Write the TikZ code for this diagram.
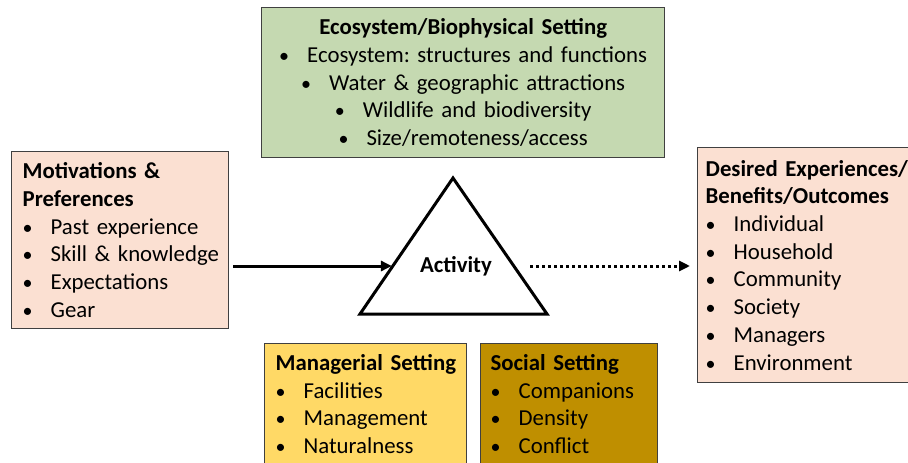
\documentclass[tikz,border=0pt]{standalone}
\usepackage{fontspec}
\setmainfont{Carlito}
\usepackage{xcolor}
\usetikzlibrary{arrows.meta,positioning}
\definecolor{EcoGreen}{RGB}{197,217,177}
\definecolor{Peach}{RGB}{251,224,210}
\definecolor{MgrGold}{RGB}{255,217,102}
\definecolor{SocGold}{RGB}{191,143,0}
\definecolor{EdgeGray}{RGB}{64,64,64}
% one unbreakable bullet line
\newcommand{\bul}[1]{\mbox{\makebox[28pt][l]{\fontsize{20}{20}\selectfont\textbullet}#1}}
\newcommand{\hd}[1]{\mbox{\bfseries #1}}
\tikzset{
  box/.style={draw=EdgeGray,line width=1.3pt,anchor=north west,
              inner xsep=11pt,inner ysep=0pt,align=left},
  tri/.style={draw=black,line width=3pt,line join=miter},
  flow/.style={-{Triangle[length=11pt,width=10pt]},line width=3pt},
  maybe/.style={flow,dash pattern=on 3pt off 3pt},
}

\begin{document}
\frenchspacing
\begin{tikzpicture}[x=1pt,y=-1pt,every node/.style={font=\fontsize{22.8}{27.7}\selectfont}]
  \useasboundingbox (0,0) rectangle (908,463);
  \clip (0,0) rectangle (908,463);

  % settings around the activity
  \node[box,fill=EcoGreen,align=center,text width=381pt,minimum height=150pt] (eco) at (261,7)
  {\hd{Ecosystem/Biophysical Setting}\\
   \bul{Ecosystem: structures and functions}\\
   \bul{Water \& geographic attractions}\\
   \bul{Wildlife and biodiversity}\\
   \bul{Size/remoteness/access}};

  \node[box,fill=MgrGold,text width=180pt,minimum height=121pt] (mgr) at (264,343)
  {\hd{Managerial Setting}\\
   \bul{Facilities}\\
   \bul{Management}\\
   \bul{Naturalness}};

  \node[box,fill=SocGold,inner xsep=10pt,text width=157pt,minimum height=121pt] (soc) at (480,343)
  {\hd{Social Setting}\\
   \bul{Companions}\\
   \bul{Density}\\
   \bul{Conflict}};

  % inputs and outcomes
  \node[box,fill=Peach,text width=195pt,minimum height=177pt] (motiv) at (11,151)
  {\hd{Motivations \&}\\
   \hd{Preferences}\\
   \bul{Past experience}\\
   \bul{Skill \& knowledge}\\
   \bul{Expectations}\\
   \bul{Gear}};

  \node[box,fill=Peach,inner xsep=8pt,text width=280pt,minimum height=235pt] (goal) at (697,147)
  {\hd{Desired Experiences/}\\
   \hd{Benefits/Outcomes}\\
   \bul{Individual}\\
   \bul{Household}\\
   \bul{Community}\\
   \bul{Society}\\
   \bul{Managers}\\
   \bul{Environment}};

  % activity triangle
  \coordinate (apex) at (453,178);
  \coordinate (baseL) at (360,314);
  \coordinate (baseR) at (547,314);
  \draw[tri] (apex) -- (baseL) -- (baseR) -- cycle;
  \node[font=\fontsize{22.8}{27.7}\selectfont\bfseries,inner sep=0pt] (act) at (456,266) {Activity};

  \draw[flow,shorten <=4pt,shorten >=28pt] (motiv.east |- act) -- (act.west);
  \draw[maybe,shorten <=38pt,shorten >=7pt] (act.east) -- (goal.west |- act);
\end{tikzpicture}
\end{document}
